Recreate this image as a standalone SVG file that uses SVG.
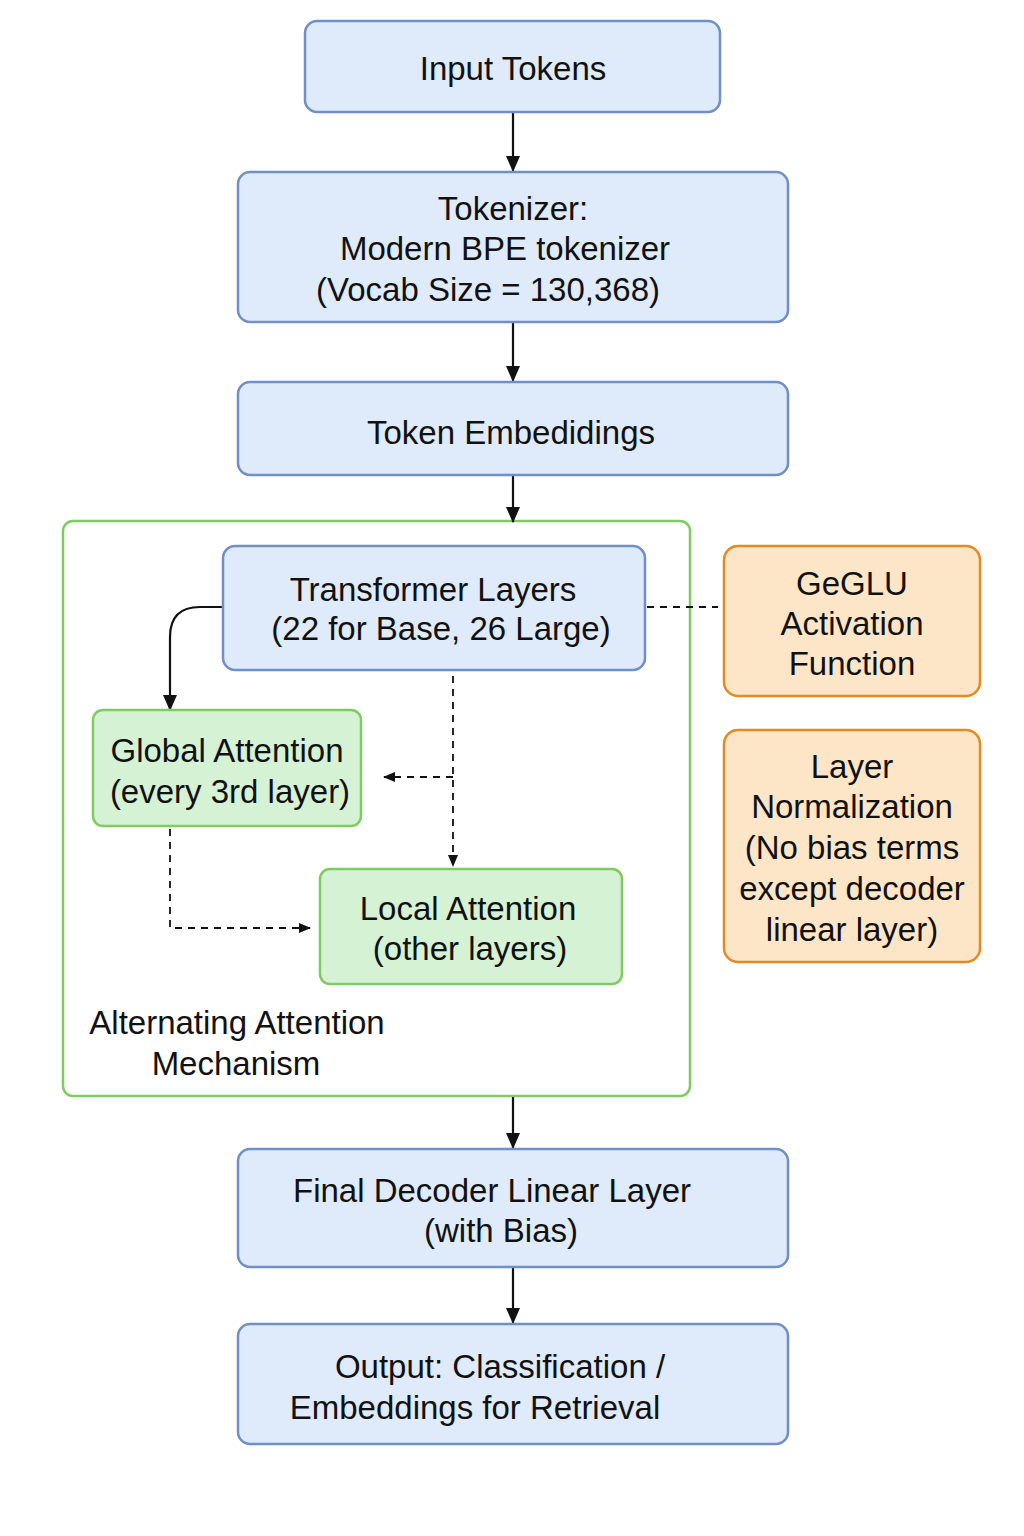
<svg xmlns="http://www.w3.org/2000/svg" width="1024" height="1536" viewBox="0 0 1024 1536">
<defs>
<style>
.blue{fill:#dfeafb;stroke:#6f8fc6;stroke-width:2.5}
.green{fill:#d6f2d4;stroke:#7fcb63;stroke-width:2.5}
.orange{fill:#fde6c8;stroke:#e38a22;stroke-width:2.5}
.t{font-family:"Liberation Sans",Arial,sans-serif;font-size:33px;fill:#111;text-anchor:middle}
.c{fill:none;stroke:#111;stroke-width:2.2}
.d{fill:none;stroke:#111;stroke-width:1.8;stroke-dasharray:7 6}
</style>
<marker id="ah" viewBox="0 0 16 16" refX="15" refY="8" markerWidth="16" markerHeight="16" markerUnits="userSpaceOnUse" orient="auto">
<path d="M0,1 L16,8 L0,15 Z" fill="#111"/>
</marker>
<marker id="ahs" viewBox="0 0 12 12" refX="11" refY="6" markerWidth="12" markerHeight="12" markerUnits="userSpaceOnUse" orient="auto">
<path d="M0,1 L12,6 L0,11 Z" fill="#111"/>
</marker>
</defs>
<rect width="1024" height="1536" fill="#fff"/>

<g id="container">
<rect x="63" y="521" width="627" height="575" rx="10" fill="none" stroke="#7fcb63" stroke-width="2.5"/>
<text class="t" x="237" y="1034">Alternating Attention</text>
<text class="t" x="236" y="1075">Mechanism</text>
</g>

<g id="connectors">
<line class="c" x1="513" y1="113" x2="513" y2="171" marker-end="url(#ah)"/>
<line class="c" x1="513" y1="323" x2="513" y2="381" marker-end="url(#ah)"/>
<line class="c" x1="513" y1="476" x2="513" y2="522" marker-end="url(#ah)"/>
<line class="c" x1="513" y1="1097" x2="513" y2="1148" marker-end="url(#ah)"/>
<line class="c" x1="513" y1="1268" x2="513" y2="1323" marker-end="url(#ah)"/>
<path class="c" d="M222,607 L200,607 Q170,607 170,637 L170,710" marker-end="url(#ah)"/>
<line class="d" x1="647" y1="607" x2="718" y2="607"/>
<line class="d" x1="453" y1="676" x2="453" y2="866" marker-end="url(#ahs)"/>
<line class="d" x1="453" y1="777" x2="384" y2="777" marker-end="url(#ahs)"/>
<path class="d" d="M170,829 L170,928 L310,928" marker-end="url(#ahs)"/>
</g>

<g id="input-tokens">
<rect class="blue" x="305" y="21" width="415" height="91" rx="12"/>
<text class="t" x="513" y="80">Input Tokens</text>
</g>

<g id="tokenizer">
<rect class="blue" x="238" y="172" width="550" height="150" rx="12"/>
<text class="t" x="513" y="220">Tokenizer:</text>
<text class="t" x="505" y="260">Modern BPE tokenizer</text>
<text class="t" x="488" y="301">(Vocab Size = 130,368)</text>
</g>

<g id="token-embeddings">
<rect class="blue" x="238" y="382" width="550" height="93" rx="12"/>
<text class="t" x="511" y="444">Token Embedidings</text>
</g>

<g id="transformer-layers">
<rect class="blue" x="223" y="546" width="422" height="124" rx="12"/>
<text class="t" x="433" y="601">Transformer Layers</text>
<text class="t" x="441" y="640">(22 for Base, 26 Large)</text>
</g>

<g id="global-attention">
<rect class="green" x="93" y="710" width="268" height="116" rx="10"/>
<text class="t" x="227" y="762">Global Attention</text>
<text class="t" x="230" y="803">(every 3rd layer)</text>
</g>

<g id="local-attention">
<rect class="green" x="320" y="869" width="302" height="115" rx="10"/>
<text class="t" x="468" y="920">Local Attention</text>
<text class="t" x="470" y="960">(other layers)</text>
</g>

<g id="geglu">
<rect class="orange" x="724" y="546" width="256" height="150" rx="14"/>
<text class="t" x="852" y="595">GeGLU</text>
<text class="t" x="852" y="635">Activation</text>
<text class="t" x="852" y="675">Function</text>
</g>

<g id="layer-norm">
<rect class="orange" x="724" y="730" width="256" height="232" rx="14"/>
<text class="t" x="852" y="778">Layer</text>
<text class="t" x="852" y="818">Normalization</text>
<text class="t" x="852" y="859">(No bias terms</text>
<text class="t" x="852" y="900">except decoder</text>
<text class="t" x="852" y="941">linear layer)</text>
</g>

<g id="final-decoder">
<rect class="blue" x="238" y="1149" width="550" height="118" rx="12"/>
<text class="t" x="492" y="1202">Final Decoder Linear Layer</text>
<text class="t" x="501" y="1242">(with Bias)</text>
</g>

<g id="output">
<rect class="blue" x="238" y="1324" width="550" height="120" rx="12"/>
<text class="t" x="500" y="1378">Output: Classification /</text>
<text class="t" x="475" y="1419">Embeddings for Retrieval</text>
</g>
</svg>
